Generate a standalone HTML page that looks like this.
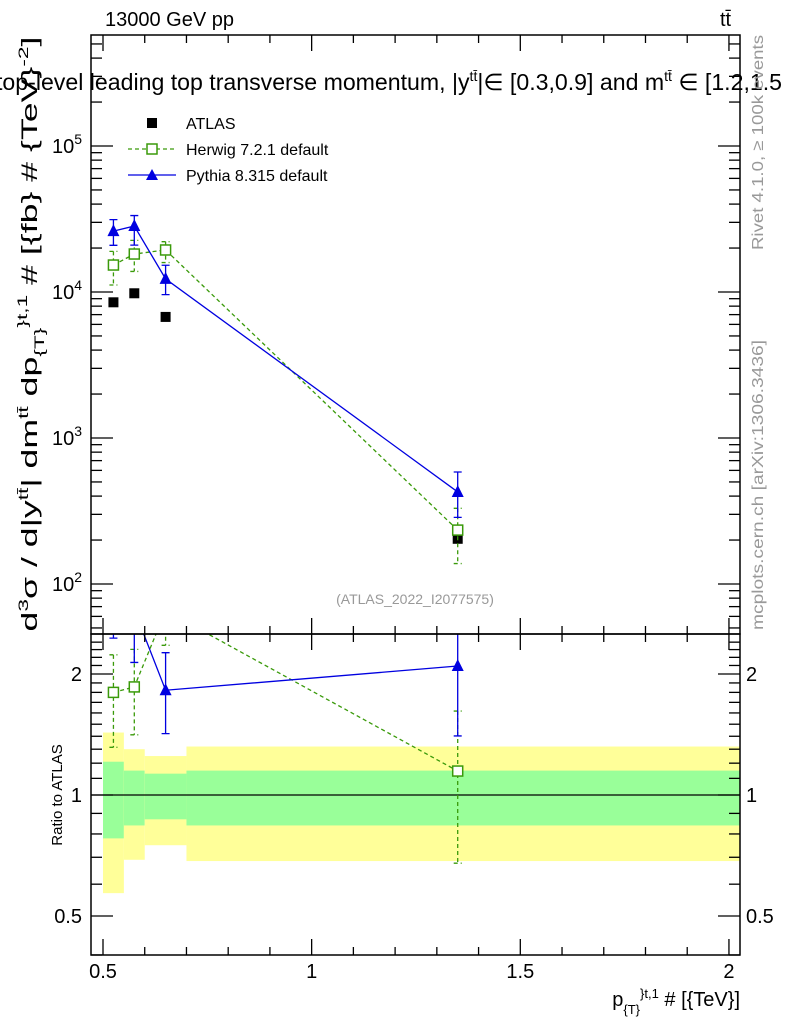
<!DOCTYPE html>
<html><head><meta charset="utf-8">
<style>
html,body{margin:0;padding:0;background:#fff;}
svg{display:block;font-family:"Liberation Sans","DejaVu Sans",sans-serif;}
</style></head>
<body>
<svg id="chart" width="786" height="1024" viewBox="0 0 786 1024" xmlns="http://www.w3.org/2000/svg">
<defs>
<clipPath id="clipMain"><rect x="91" y="35" width="649" height="599"/></clipPath>
<clipPath id="clipRatio"><rect x="91" y="634" width="649" height="321"/></clipPath>
</defs>
<g id="bands" clip-path="url(#clipRatio)"></g>
<g id="marks"></g>
<g id="axes"></g>
<text x="105" y="26" font-size="20">13000 GeV pp</text>
<text x="720" y="26" font-size="20">tt̄</text>
<text x="-4" y="90" font-size="23" textLength="786" lengthAdjust="spacingAndGlyphs">top-level leading top transverse momentum, |y<tspan dy="-9" font-size="14">tt̄</tspan><tspan dy="9">|∈ [0.3,0.9] and m</tspan><tspan dy="-9" font-size="14">tt̄</tspan><tspan dy="9"> ∈ [1.2,1.5</tspan></text>
<text transform="translate(37,334) rotate(-90)" text-anchor="middle" font-size="22" textLength="595" lengthAdjust="spacingAndGlyphs">d<tspan dy="-9" font-size="14">3</tspan><tspan dy="9">σ / d|y</tspan><tspan dy="-9" font-size="14">tt̄</tspan><tspan dy="9">| dm</tspan><tspan dy="-9" font-size="14">tt̄</tspan><tspan dy="9"> dp</tspan><tspan dy="7" font-size="14">{T}</tspan><tspan dy="-17" font-size="14">}</tspan><tspan font-size="14">t,1</tspan><tspan dy="10"> # [{fb} # {TeV}</tspan><tspan dy="-9" font-size="14">-2</tspan><tspan dy="9">]</tspan></text>
<text transform="translate(62,795) rotate(-90)" text-anchor="middle" font-size="15">Ratio to ATLAS</text>
<text x="740" y="1006" text-anchor="end" font-size="20">p<tspan dy="8" font-size="13">{T}</tspan><tspan dy="-16" font-size="13">}</tspan><tspan font-size="13">t,1</tspan><tspan dy="8"> # [{TeV}]</tspan></text>
<text transform="translate(763,250) rotate(-90)" font-size="16" fill="#999" textLength="215" lengthAdjust="spacingAndGlyphs">Rivet 4.1.0, ≥ 100k events</text>
<text transform="translate(763,630) rotate(-90)" font-size="16" fill="#999" textLength="290" lengthAdjust="spacingAndGlyphs">mcplots.cern.ch [arXiv:1306.3436]</text>
<text x="415" y="604" text-anchor="middle" font-size="14" fill="#999">(ATLAS_2022_I2077575)</text>
<g>
<g>
<rect x="147" y="118" width="10" height="10" fill="#000"/>
<text x="186" y="129" font-size="16">ATLAS</text></g>
<g>
<line x1="128" y1="149" x2="176" y2="149" stroke="#3a9a0a" stroke-width="1.3" stroke-dasharray="4,3"/>
<rect x="147" y="144" width="10" height="10" fill="#fff" stroke="#3a9a0a" stroke-width="1.5"/>
<text x="186" y="155" font-size="16">Herwig 7.2.1 default</text></g>
<g>
<line x1="128" y1="175" x2="176" y2="175" stroke="#0000e0" stroke-width="1.3"/>
<polygon points="152,169 146,180 158,180" fill="#0000e0"/>
<text x="186" y="181" font-size="16">Pythia 8.315 default</text></g>
</g>
</svg>
<script>
const binLow = [0.5, 0.55, 0.6, 0.7];
const binHigh = [0.55, 0.6, 0.7, 2.0];
const xCenters = [0.525, 0.575, 0.65, 1.35];
const atlasVals = [8500, 9800, 6750, 204];
const herwigVals = [15300, 18200, 19400, 234];
const herwigErrUp = [0.24, 0.24, 0.14, 0.41];
const herwigErrDn = [0.27, 0.24, 0.18, 0.41];
const pythiaVals = [26100, 28300, 12300, 427];
const pythiaErrUp = [0.20, 0.18, 0.24, 0.37];
const pythiaErrDn = [0.20, 0.26, 0.22, 0.33];
const bandTotalUp = [1.43, 1.30, 1.25, 1.32];
const bandTotalDn = [0.57, 0.69, 0.75, 0.685];
const bandStatUp = [1.21, 1.15, 1.13, 1.15];
const bandStatDn = [0.78, 0.84, 0.87, 0.84];
const xTickLabels = ["0.5", "1", "1.5", "2"];
const xTickVals = [0.5, 1, 1.5, 2];
const yTickVals = [100, 1000, 10000, 100000];
const yTickLabels = ["2", "3", "4", "5"];
const rTickVals = [0.5, 1, 2];
const rTickLabels = ["0.5", "1", "2"];

const NS = "http://www.w3.org/2000/svg";
const X0 = 91, X1 = 740, YT = 35, YB = 634, RT = 634, RB = 955;
function xs(v){ return 103 + (v - 0.5) * 417.3; }
function ys(v){ return 584 - (Math.log10(v) - 2) * 146; }
function rs(v){ return 795 - Math.log10(v) * 402; }
function mk(tag, attrs, parent){
  const e = document.createElementNS(NS, tag);
  for (const k in attrs) e.setAttribute(k, attrs[k]);
  parent.appendChild(e); return e;
}
const bands = document.getElementById('bands');
const marks = document.getElementById('marks');
const axes = document.getElementById('axes');

for (let i = 0; i < binLow.length; i++){
  const xa = xs(binLow[i]), xb = i === binLow.length-1 ? X1 : xs(binHigh[i]);
  let r = mk('rect', {x: xa, y: rs(bandTotalUp[i]), width: xb - xa, height: rs(bandTotalDn[i]) - rs(bandTotalUp[i]), fill: '#ffff99'}, bands);
  
  
  r = mk('rect', {x: xa, y: rs(bandStatUp[i]), width: xb - xa, height: rs(bandStatDn[i]) - rs(bandStatUp[i]), fill: '#99ff99'}, bands);
  
  
}
mk('line', {x1: X0, y1: rs(1), x2: X1, y2: rs(1), stroke: '#000', 'stroke-width': 1.2}, bands);

const gMain = mk('g', {'clip-path': 'url(#clipMain)'}, marks);
const gRatio = mk('g', {'clip-path': 'url(#clipRatio)'}, marks);

function drawSeries(g, yf, vals, up, dn, color, dashed, marker, name){
  let pts = vals.map((v, i) => xs(xCenters[i]) + ',' + yf(v)).join(' ');
  const pl = mk('polyline', {points: pts, fill: 'none', stroke: color, 'stroke-width': 1.3}, g);
  if (dashed) pl.setAttribute('stroke-dasharray', '4,3');
  
  
  vals.forEach((v, i) => {
    const x = xs(xCenters[i]);
    const yu = yf(v * (1 + up[i])), yd = yf(v * (1 - dn[i]));
    const eb = mk('path', {d: `M${x},${yu}V${yd}M${x-4},${yu}H${x+4}M${x-4},${yd}H${x+4}`, stroke: color, 'stroke-width': 1.3, fill: 'none'}, g);
    if (dashed) eb.setAttribute('stroke-dasharray', '4,3');
    
    
    const y = yf(v);
    let m;
    if (marker === 'square') m = mk('rect', {x: x-5, y: y-5, width: 10, height: 10, fill: '#fff', stroke: color, 'stroke-width': 1.5}, g);
    else m = mk('polygon', {points: `${x},${y-7} ${x-6},${y+5} ${x+6},${y+5}`, fill: color}, g);
    
    
  });
}
atlasVals.forEach((v, i) => {
  const r = mk('rect', {x: xs(xCenters[i]) - 5, y: ys(v) - 5, width: 10, height: 10, fill: '#000'}, gMain);
  
  
});
drawSeries(gMain, ys, herwigVals, herwigErrUp, herwigErrDn, '#3a9a0a', true, 'square', 'herwig');
drawSeries(gMain, ys, pythiaVals, pythiaErrUp, pythiaErrDn, '#0000e0', false, 'tri', 'pythia');
const hR = herwigVals.map((v, i) => v / atlasVals[i]);
const pR = pythiaVals.map((v, i) => v / atlasVals[i]);
drawSeries(gRatio, rs, hR, herwigErrUp, herwigErrDn, '#3a9a0a', true, 'square', 'herwig-ratio');
drawSeries(gRatio, rs, pR, pythiaErrUp, pythiaErrDn, '#0000e0', false, 'tri', 'pythia-ratio');

mk('rect', {x: X0, y: YT, width: X1 - X0, height: YB - YT, fill: 'none', stroke: '#000', 'stroke-width': 1.5}, axes);
mk('rect', {x: X0, y: RT, width: X1 - X0, height: RB - RT, fill: 'none', stroke: '#000', 'stroke-width': 1.5}, axes);
for (let t = 0.5; t <= 2.0001; t += 0.1){
  const x = xs(t);
  const major = Math.abs(t*2 - Math.round(t*2)) < 1e-6;
  const L = major ? 16 : 8;
  [[YT, 1], [YB, -1], [RT, 1], [RB, -1]].forEach(([y, d]) => mk('line', {x1: x, y1: y, x2: x, y2: y + d * L, stroke: '#000', 'stroke-width': 1.3}, axes));
}
xTickVals.forEach((v, i) => {
  const t = mk('text', {x: xs(v), y: 978, 'text-anchor': 'middle', 'font-size': 20}, axes);
  t.textContent = xTickLabels[i];
  
  
});
for (let e = 1; e <= 5; e++){
  for (let m = 1; m <= 9; m++){
    const v = m * Math.pow(10, e);
    const y = ys(v);
    if (y < YT || y > YB) continue;
    const L = m === 1 ? 22 : 11;
    mk('line', {x1: X0, y1: y, x2: X0 + L, y2: y, stroke: '#000', 'stroke-width': 1.3}, axes);
    mk('line', {x1: X1, y1: y, x2: X1 - L, y2: y, stroke: '#000', 'stroke-width': 1.3}, axes);
  }
}
yTickVals.forEach((v, i) => {
  const t = mk('text', {x: 82, y: ys(v) + 7, 'text-anchor': 'end', 'font-size': 20}, axes);
  t.textContent = '10';
  const s = mk('tspan', {dy: -9, 'font-size': 14}, t);
  s.textContent = yTickLabels[i];
  
  
});
[0.4,0.5,0.6,0.7,0.8,0.9,1,1.1,1.2,1.3,1.4,1.5,1.6,1.7,1.8,1.9,2,2.1,2.2,2.3,2.4].forEach(v => {
  const y = rs(v); if (y < RT || y > RB) return;
  const L = (v === 0.5 || v === 1 || v === 2) ? 22 : 11;
  mk('line', {x1: X0, y1: y, x2: X0 + L, y2: y, stroke: '#000', 'stroke-width': 1.3}, axes);
  mk('line', {x1: X1, y1: y, x2: X1 - L, y2: y, stroke: '#000', 'stroke-width': 1.3}, axes);
});
rTickVals.forEach((v, i) => {
  let t = mk('text', {x: 82, y: rs(v) + 7, 'text-anchor': 'end', 'font-size': 20}, axes);
  t.textContent = rTickLabels[i];
  
  
  t = mk('text', {x: 746, y: rs(v) + 7, 'font-size': 20}, axes);
  t.textContent = rTickLabels[i];
  
  
});
</script>
</body></html>
